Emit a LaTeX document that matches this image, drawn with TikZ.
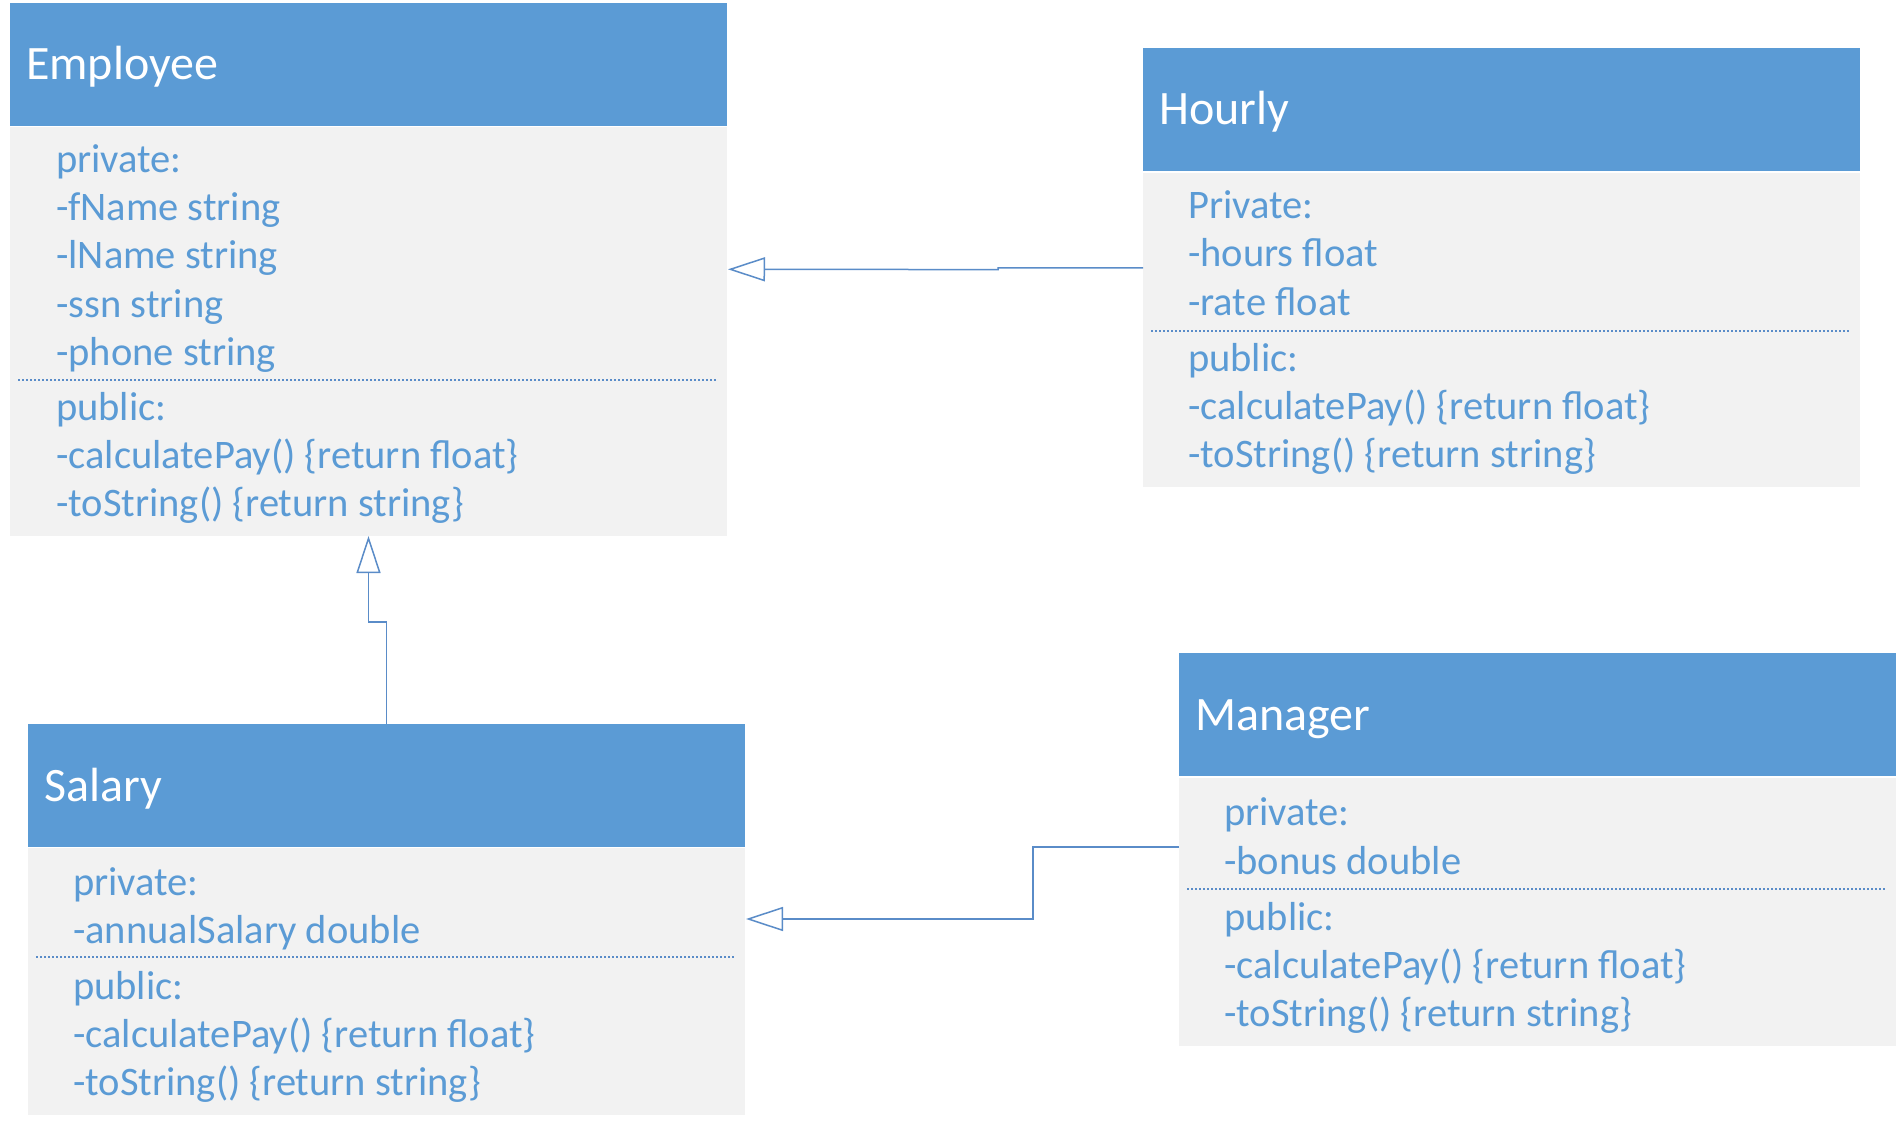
\documentclass[tikz,border=0pt]{standalone}
\usepackage{fontspec}
\setmainfont{Carlito}
\usetikzlibrary{arrows.meta,calc}
\definecolor{hblue}{HTML}{5B9BD5}
\definecolor{bgray}{HTML}{F2F2F2}
\definecolor{tblue}{HTML}{5B9BD5}
\definecolor{lblue}{HTML}{5A8CC8}
\tikzset{
  hdr/.style={fill=hblue, anchor=north west, inner sep=0pt, outer sep=0pt, minimum width=717pt, minimum height=123pt},
  bdy/.style={fill=bgray, anchor=north west, inner sep=0pt, outer sep=0pt, minimum width=717pt},
  ttl/.style={anchor=base west, inner sep=0pt, text=white, font=\fontsize{48}{56}\selectfont},
  txt/.style={anchor=base west, inner sep=0pt, text=tblue, font=\fontsize{40.5}{48}\selectfont},
  sep/.style={draw=lblue, line width=1.3pt, dash pattern=on 2pt off 2pt},
  inh/.style={draw=lblue, line width=1.5pt, -{Triangle[open, length=37pt, width=24pt]}}
}
\begin{document}
\begin{tikzpicture}[x=1pt, y=-1pt]
\useasboundingbox[fill=white] (0,0) rectangle (1899,1126);

% ---------- Employee ----------
\node[hdr] (ehead) at (10,3) {};
\node[bdy, minimum height=409pt] (ebody) at (10,127) {};
\node[ttl] (etitle) at (26,80) {Employee};
\node[txt] (e1) at (56,173) {private:};
\node[txt] (e2) at (56,221) {-fName string};
\node[txt] (e3) at (56,269) {-lName string};
\node[txt] (e4) at (56,317) {-ssn string};
\node[txt] (e5) at (56,365) {-phone string};
\draw[sep] ($(ebody.north west)+(8,253)$) coordinate (es1) -- ($(ebody.north east)+(-10,253)$) coordinate (es2);
\node[txt] (e6) at (56,420) {public:};
\node[txt] (e7) at (56,468) {-calculatePay() \{return float\}};
\node[txt] (e8) at (56,516) {-toString() \{return string\}};

% ---------- Hourly ----------
\node[hdr] (hhead) at (1143,48) {};
\node[bdy, minimum height=314pt] (hbody) at (1143,173) {};
\node[ttl] (htitle) at (1159,125) {Hourly};
\node[txt] (h1) at (1188,219) {Private:};
\node[txt] (h2) at (1188,267) {-hours float};
\node[txt] (h3) at (1188,315) {-rate float};
\draw[sep] ($(hbody.north west)+(8,158)$) coordinate (hs1) -- ($(hbody.north east)+(-10,158)$) coordinate (hs2);
\node[txt] (h4) at (1188,371) {public:};
\node[txt] (h5) at (1188,419) {-calculatePay() \{return float\}};
\node[txt] (h6) at (1188,467) {-toString() \{return string\}};

% ---------- Salary ----------
\node[hdr] (shead) at (28,724) {};
\node[bdy, minimum height=267pt] (sbody) at (28,848) {};
\node[ttl] (stitle) at (44,801) {Salary};
\node[txt] (s1) at (73,895) {private:};
\node[txt] (s2) at (73,943) {-annualSalary double};
\draw[sep] ($(sbody.north west)+(8,109)$) coordinate (ss1) -- ($(sbody.north east)+(-10,109)$) coordinate (ss2);
\node[txt] (s3) at (73,999) {public:};
\node[txt] (s4) at (73,1047) {-calculatePay() \{return float\}};
\node[txt] (s5) at (73,1095) {-toString() \{return string\}};

% ---------- Manager ----------
\node[hdr] (mhead) at (1179,653) {};
\node[bdy, minimum height=268pt] (mbody) at (1179,778) {};
\node[ttl] (mtitle) at (1195,730) {Manager};
\node[txt] (m1) at (1224,825) {private:};
\node[txt] (m2) at (1224,874) {-bonus double};
\draw[sep] ($(mbody.north west)+(8,111)$) coordinate (ms1) -- ($(mbody.north east)+(-10,111)$) coordinate (ms2);
\node[txt] (m3) at (1224,930) {public:};
\node[txt] (m4) at (1224,978) {-calculatePay() \{return float\}};
\node[txt] (m5) at (1224,1026) {-toString() \{return string\}};

% ---------- Connectors ----------
\draw[inh] (hbody.north west) ++(0,95) -- ++(-145,0) -- ++(0,1.6) -- ($(ebody.north east)+(1,142.3)$);
\draw[inh] (shead.north) -- ++(0,-102) -| (ebody.south);
\draw[inh] (mbody.north west) ++(0,69) -- ++(-146,0) |- ($(sbody.north east)+(1,71)$);
\end{tikzpicture}
\end{document}
